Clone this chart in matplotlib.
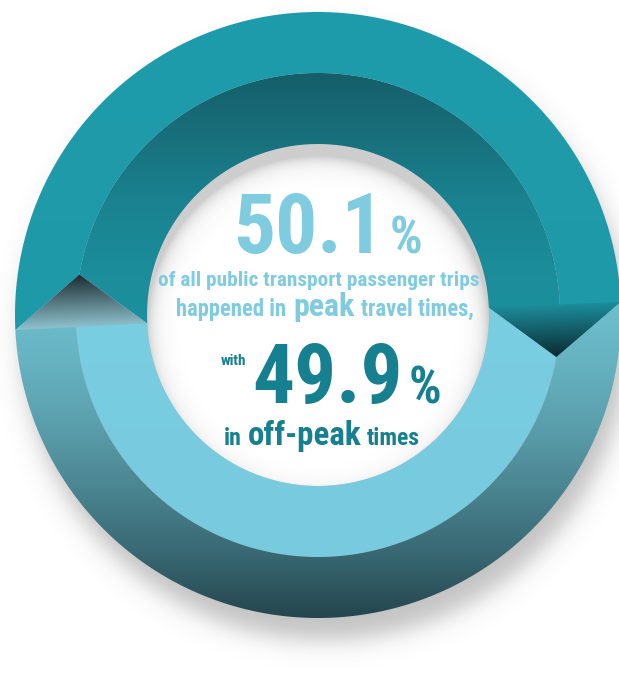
import numpy as np
import matplotlib.pyplot as plt
from matplotlib.patches import Polygon, Circle
from matplotlib.colors import LinearSegmentedColormap
from matplotlib import font_manager

# share of public transport passenger trips by travel time
segments = ["peak", "off-peak"]
shares = [50.1, 49.9]

W, H = 619, 689
cx, cy = 318, 315
r_out, r_mid, r_in = 303, 242, 171
a_start = 2.5      # peak segment starts here (deg, ccw from 3 o'clock)
tip = 12.5         # chevron depth (deg)

# narrowest bold face available
installed = {f.name for f in font_manager.fontManager.ttflist}
FONT = {"family": ["DejaVu Sans"], "stretch": "condensed"}
for name in ("Roboto Condensed", "Liberation Sans Narrow"):
    if name in installed:
        FONT = {"family": [name, "DejaVu Sans"], "stretch": "normal"}
        break

LIGHT = "#7fcbe0"
DARK = "#168090"

fig = plt.figure(figsize=(W / 100, H / 100), dpi=100)
ax = fig.add_axes([0, 0, 1, 1])
ax.set_xlim(0, W)
ax.set_ylim(H, 0)
ax.axis("off")


def arc(r, a0, a1, n=240):
    t = np.radians(np.linspace(a0, a1, n))
    return np.column_stack([cx + r * np.cos(t), cy - r * np.sin(t)])


def pt(r, a):
    t = np.radians(a)
    return np.array([cx + r * np.cos(t), cy - r * np.sin(t)])


def off(r):
    # the chevron point sits on the middle radius
    return -tip if r == r_mid else 0.0


def band(ra, rb, a0, a1):
    p1 = arc(ra, a0 + off(ra), a1 + off(ra))
    p2 = arc(rb, a1 + off(rb), a0 + off(rb))
    return np.vstack([p1, p2])


def shade(xy, p0, p1, colors, z):
    """fill polygon xy with a linear gradient running from p0 to p1"""
    poly = Polygon(xy, closed=True, facecolor="none", edgecolor="none", zorder=z)
    ax.add_patch(poly)
    x0, y0 = xy.min(0)
    x1, y1 = xy.max(0)
    X, Y = np.meshgrid(np.linspace(x0, x1, 400), np.linspace(y0, y1, 400))
    d = np.asarray(p1, float) - np.asarray(p0, float)
    t = ((X - p0[0]) * d[0] + (Y - p0[1]) * d[1]) / (d @ d)
    cmap = LinearSegmentedColormap.from_list("g", colors)
    im = ax.imshow(np.clip(t, 0, 1), cmap=cmap, vmin=0, vmax=1,
                   extent=(x0, x1, y1, y0), origin="upper",
                   interpolation="bilinear", aspect="auto", zorder=z)
    im.set_clip_path(poly)


# --- drop shadow under the ring ---
X, Y = np.meshgrid(np.arange(W) + 0.5, np.arange(H) + 0.5)
d = np.hypot(X - (cx + 7), Y - (cy + 22))
sh = np.zeros((H, W, 4))
sh[..., :3] = 0.3
sh[..., 3] = 0.34 * 0.5 * (1 - np.tanh((d - r_out) / 14))
ax.imshow(sh, extent=(0, W, H, 0), origin="upper", aspect="auto", zorder=1)

# white hole with a soft inner shadow at the top
hole = Circle((cx, cy), r_in, facecolor="white", edgecolor="none", zorder=1.5)
ax.add_patch(hole)
ds = np.hypot(X - cx, Y - (cy + 12))
ish = np.zeros((H, W, 4))
ish[..., :3] = 0.25
ish[..., 3] = 0.26 * np.exp(-np.clip(r_in - ds, 0, None) / 8)
im = ax.imshow(ish, extent=(0, W, H, 0), origin="upper", aspect="auto", zorder=1.6)
im.set_clip_path(hole)

# --- ring segments ---
spans = np.array(shares) / sum(shares) * 360
edges = a_start + np.concatenate([[0], np.cumsum(spans)])

styles = {
    "peak": {
        "inner": ((cx, 73), (cx, 330),
                  ["#145e69", "#18707c", "#1a8290", "#1b8c9a", "#1c919f"]),
        "outer": ((cx, 10), (cx, 330),
                  ["#1f9cab", "#1e99a8"]),
        "tip": ["#1c8e9c", "#0b2a31"],
    },
    "off-peak": {
        "inner": ((cx, 300), (cx, 490),
                  ["#7acee1", "#78cbdf"]),
        "outer": ((cx, 300), (cx, 618),
                  ["#6ec0d0", "#66b2c1", "#5a9eab", "#4a8490", "#386873", "#25464e"]),
        "tip": ["#8cbfca", "#1b2a30"],
    },
}

for i, name in enumerate(segments):
    a0, a1 = edges[i], edges[i + 1]
    st = styles[name]
    p0, p1, cols = st["inner"]
    shade(band(r_in, r_mid, a0, a1), p0, p1, cols, 2)
    p0, p1, cols = st["outer"]
    shade(band(r_mid, r_out, a0, a1), p0, p1, cols, 2)
    # shadow inside the arrow point at the start of the segment
    tri = np.array([pt(r_in, a0), pt(r_mid, a0 - tip), pt(r_out, a0)])
    base = (tri[0] + tri[2]) / 2
    shade(tri, base, tri[1], st["tip"], 3)


# --- centre text ---
def text_line(parts, x0, x1, yb, color):
    # parts: (string, size, baseline shift px, gap before px)
    rend = fig.canvas.get_renderer()
    objs = [ax.text(0, yb + dy, s, fontsize=fs, color=color, fontweight="bold",
                    ha="left", va="baseline", zorder=10, **FONT)
            for s, fs, dy, gap in parts]
    widths = [t.get_window_extent(rend).width for t in objs]
    gaps = sum(p[3] for p in parts)
    k = min(1.0, (x1 - x0 - gaps) / sum(widths))
    total = sum(widths) * k + gaps
    x = (x0 + x1 - total) / 2
    for t, p, w in zip(objs, parts, widths):
        t.set_fontsize(p[1] * k)
        x += p[3]
        t.set_x(x)
        x += w * k


text_line([(f"{shares[0]:.1f}", 60, 0, 0), ("%", 37, 0, 6)], 226, 430, 253, LIGHT)
text_line([("of all public transport passenger trips", 17, 0, 0)], 158, 480, 286, LIGHT)
text_line([("happened in", 17, 0, 0), (segments[0], 24, 0, 7), ("travel times,", 17, 0, 6)],
          176, 474, 316, LIGHT)
text_line([("with", 11, -38, 0), (f"{shares[1]:.1f}", 60, 0, 6), ("%", 37, 0, 5)],
          210, 452, 403, DARK)
text_line([("in", 18, 0, 0), (segments[1], 25, 0, 6), ("times", 18, 0, 6)],
          224, 420, 445, DARK)

ax.set_xlim(0, W)
ax.set_ylim(H, 0)
fig.savefig("out.png", dpi=100, facecolor="white")
